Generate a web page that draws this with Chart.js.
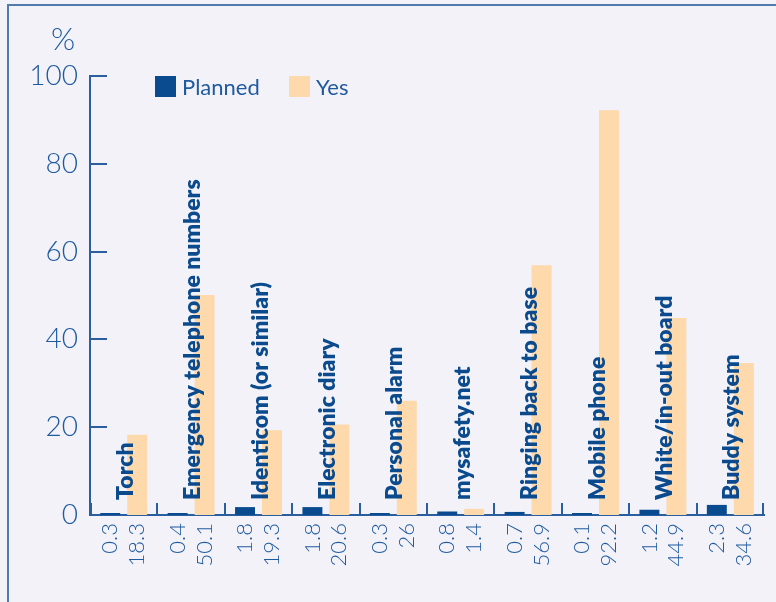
<!DOCTYPE html>
<html>
<head>
<meta charset="utf-8">
<script src="https://cdn.jsdelivr.net/npm/chart.js@4"></script>
<style>
    html, body { margin: 0; padding: 0; background: #f2f2f8; }
    #wrap { position: relative; width: 776px; height: 602px; overflow: hidden; }
    #frame {
        position: absolute; left: 7px; top: 4px; width: 800px; height: 640px;
        border-top: 2px solid #4f7bad; border-left: 2px solid #4f7bad;
    }
    canvas { position: absolute; left: 0; top: 0; }
</style>
</head>
<body>
<div id="wrap">
    <div id="frame"></div>
    <canvas id="safetyChart" width="776" height="602"></canvas>
</div>
<script>
// 数据
const categories = [
    'Torch', 'Emergency telephone numbers', 'Identicom (or similar)', 'Electronic diary',
    'Personal alarm', 'mysafety.net', 'Ringing back to base', 'Mobile phone',
    'White/in-out board', 'Buddy system'
];
const plannedValues = [0.3, 0.4, 1.8, 1.8, 0.3, 0.8, 0.7, 0.1, 1.2, 2.3];
const yesValues = [18.3, 50.1, 19.3, 20.6, 26, 1.4, 56.9, 92.2, 44.9, 34.6];
const yTicks = [0, 20, 40, 60, 80, 100];

const axisColor = '#2a5e9f';
const textColor = '#1f5a9f';
const labelColor = '#0b4a8c';
const lightFont = '"Lato", "Open Sans", sans-serif';

// 自定义绘制：刻度、类别名、数值、图例
const decorPlugin = {
    id: 'decor',
    afterDraw(chart) {
        const ctx = chart.ctx;
        const area = chart.chartArea;
        const x = chart.scales.x;
        const y = chart.scales.y;
        ctx.save();

        // 向内的刻度线
        ctx.strokeStyle = axisColor;
        ctx.lineWidth = 2;
        ctx.beginPath();
        yTicks.forEach(v => {
            if (v === 0) return;
            const py = Math.round(y.getPixelForValue(v));
            ctx.moveTo(area.left, py);
            ctx.lineTo(area.left + 17, py);
        });
        for (let i = 0; i <= categories.length; i++) {
            let px;
            if (i === 0) px = area.left + 1;
            else if (i === categories.length) px = area.right - 1;
            else px = (x.getPixelForValue(i - 1) + x.getPixelForValue(i)) / 2;
            px = Math.round(px);
            ctx.moveTo(px, area.bottom);
            ctx.lineTo(px, area.bottom - 12);
        }
        ctx.stroke();

        // "%" 标签
        ctx.fillStyle = textColor;
        ctx.font = '300 31px ' + lightFont;
        ctx.textAlign = 'center';
        ctx.textBaseline = 'middle';
        ctx.fillText('%', 63, 40);

        // 类别名（竖排粗体）
        ctx.fillStyle = labelColor;
        ctx.font = '800 23px ' + lightFont;
        categories.forEach((name, i) => {
            const cx = x.getPixelForValue(i) + 9;
            ctx.save();
            ctx.translate(cx, 500);
            ctx.rotate(-Math.PI / 2);
            ctx.textAlign = 'left';
            ctx.textBaseline = 'alphabetic';
            ctx.fillText(name, 0, 0);
            ctx.restore();
        });

        // 柱子下方的数值
        ctx.fillStyle = textColor;
        ctx.font = '300 22px ' + lightFont;
        chart.data.datasets.forEach((ds, di) => {
            const meta = chart.getDatasetMeta(di);
            meta.data.forEach((bar, i) => {
                ctx.save();
                ctx.translate(bar.x, area.bottom + 8);
                ctx.rotate(-Math.PI / 2);
                ctx.textAlign = 'right';
                ctx.textBaseline = 'middle';
                ctx.fillText(String(ds.data[i]), 0, 0);
                ctx.restore();
            });
        });

        // 图例
        const legendPos = [155, 289];
        ctx.font = '22px ' + lightFont;
        ctx.textAlign = 'left';
        ctx.textBaseline = 'middle';
        chart.data.datasets.forEach((ds, di) => {
            const lx = legendPos[di];
            ctx.fillStyle = ds.backgroundColor;
            ctx.fillRect(lx, 76, 21, 21);
            ctx.fillStyle = textColor;
            ctx.fillText(ds.label, lx + 27, 88);
        });

        ctx.restore();
    }
};

const chart = new Chart(document.getElementById('safetyChart').getContext('2d'), {
    type: 'bar',
    data: {
        labels: categories,
        datasets: [{
            label: 'Planned',
            data: plannedValues,
            backgroundColor: '#0a4a8e',
            minBarLength: 2,
            barPercentage: 0.74,
            categoryPercentage: 0.8
        }, {
            label: 'Yes',
            data: yesValues,
            backgroundColor: '#fdd9ab',
            barPercentage: 0.74,
            categoryPercentage: 0.8
        }]
    },
    options: {
        responsive: false,
        animation: false,
        layout: { padding: { left: 0, top: 76, right: 12, bottom: 0 } },
        plugins: {
            legend: { display: false },
            tooltip: { enabled: false }
        },
        scales: {
            x: {
                grid: { display: false, drawTicks: false },
                border: { display: true, color: axisColor, width: 2 },
                ticks: { display: false },
                afterFit(scale) { scale.height = 87; }
            },
            y: {
                min: 0,
                max: 100,
                grid: { display: false, drawTicks: false },
                border: { display: true, color: axisColor, width: 2 },
                ticks: {
                    stepSize: 20,
                    padding: 12,
                    color: textColor,
                    font: { family: lightFont, size: 28, weight: '300' }
                },
                afterFit(scale) { scale.width = 90; }
            }
        }
    },
    plugins: [decorPlugin]
});
</script>
</body>
</html>
